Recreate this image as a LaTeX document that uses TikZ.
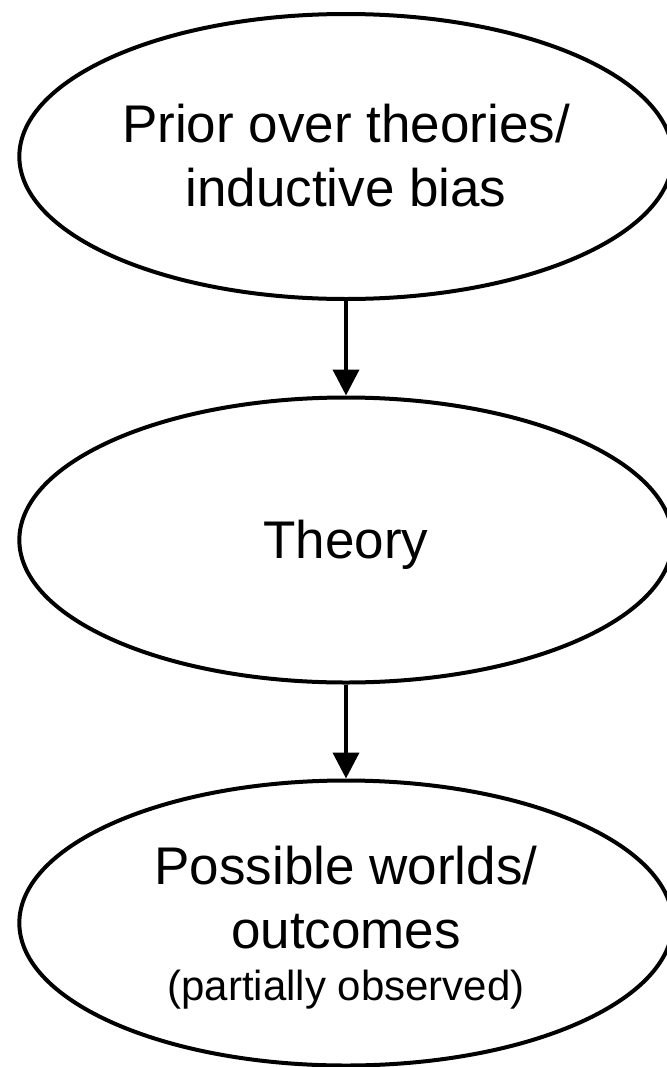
\documentclass[tikz,border=0pt]{standalone}
\usepackage{fontspec}
\setmainfont{Liberation Sans}
\usepackage{tikz}
\usetikzlibrary{shapes.geometric,arrows.meta,positioning}

% line box of the font, so text sits as in the slide
\newcommand{\ls}{\rule[-.212em]{0pt}{1.117em}}
\newcommand{\smalltxt}{\fontsize{31.5}{39}\selectfont}

\begin{document}
\begin{tikzpicture}[
  x=0.75pt, y=-0.75pt,
  blob/.style={draw, ellipse, line width=3pt, minimum width=490pt, minimum height=213.75pt, inner sep=0pt, align=center, font=\fontsize{39.75}{48}\selectfont},
  arr/.style={-{Triangle[length=19.5pt, width=19.5pt]}, line width=3pt}
]
\useasboundingbox (0,0) rectangle (667,1067);

\node[blob] (prior) at (346,156.5) {\ls Prior over theories/\\\ls inductive bias};
\node[blob] (theory) at (346,540) {\ls Theory};
\node[blob] (worlds) at (346,923) {\ls Possible worlds/\\\ls outcomes\\[-9pt]{\smalltxt\ls (partially observed)}};

\draw[arr] (prior) -- (theory);
\draw[arr] (theory) -- (worlds);

\end{tikzpicture}
\end{document}
